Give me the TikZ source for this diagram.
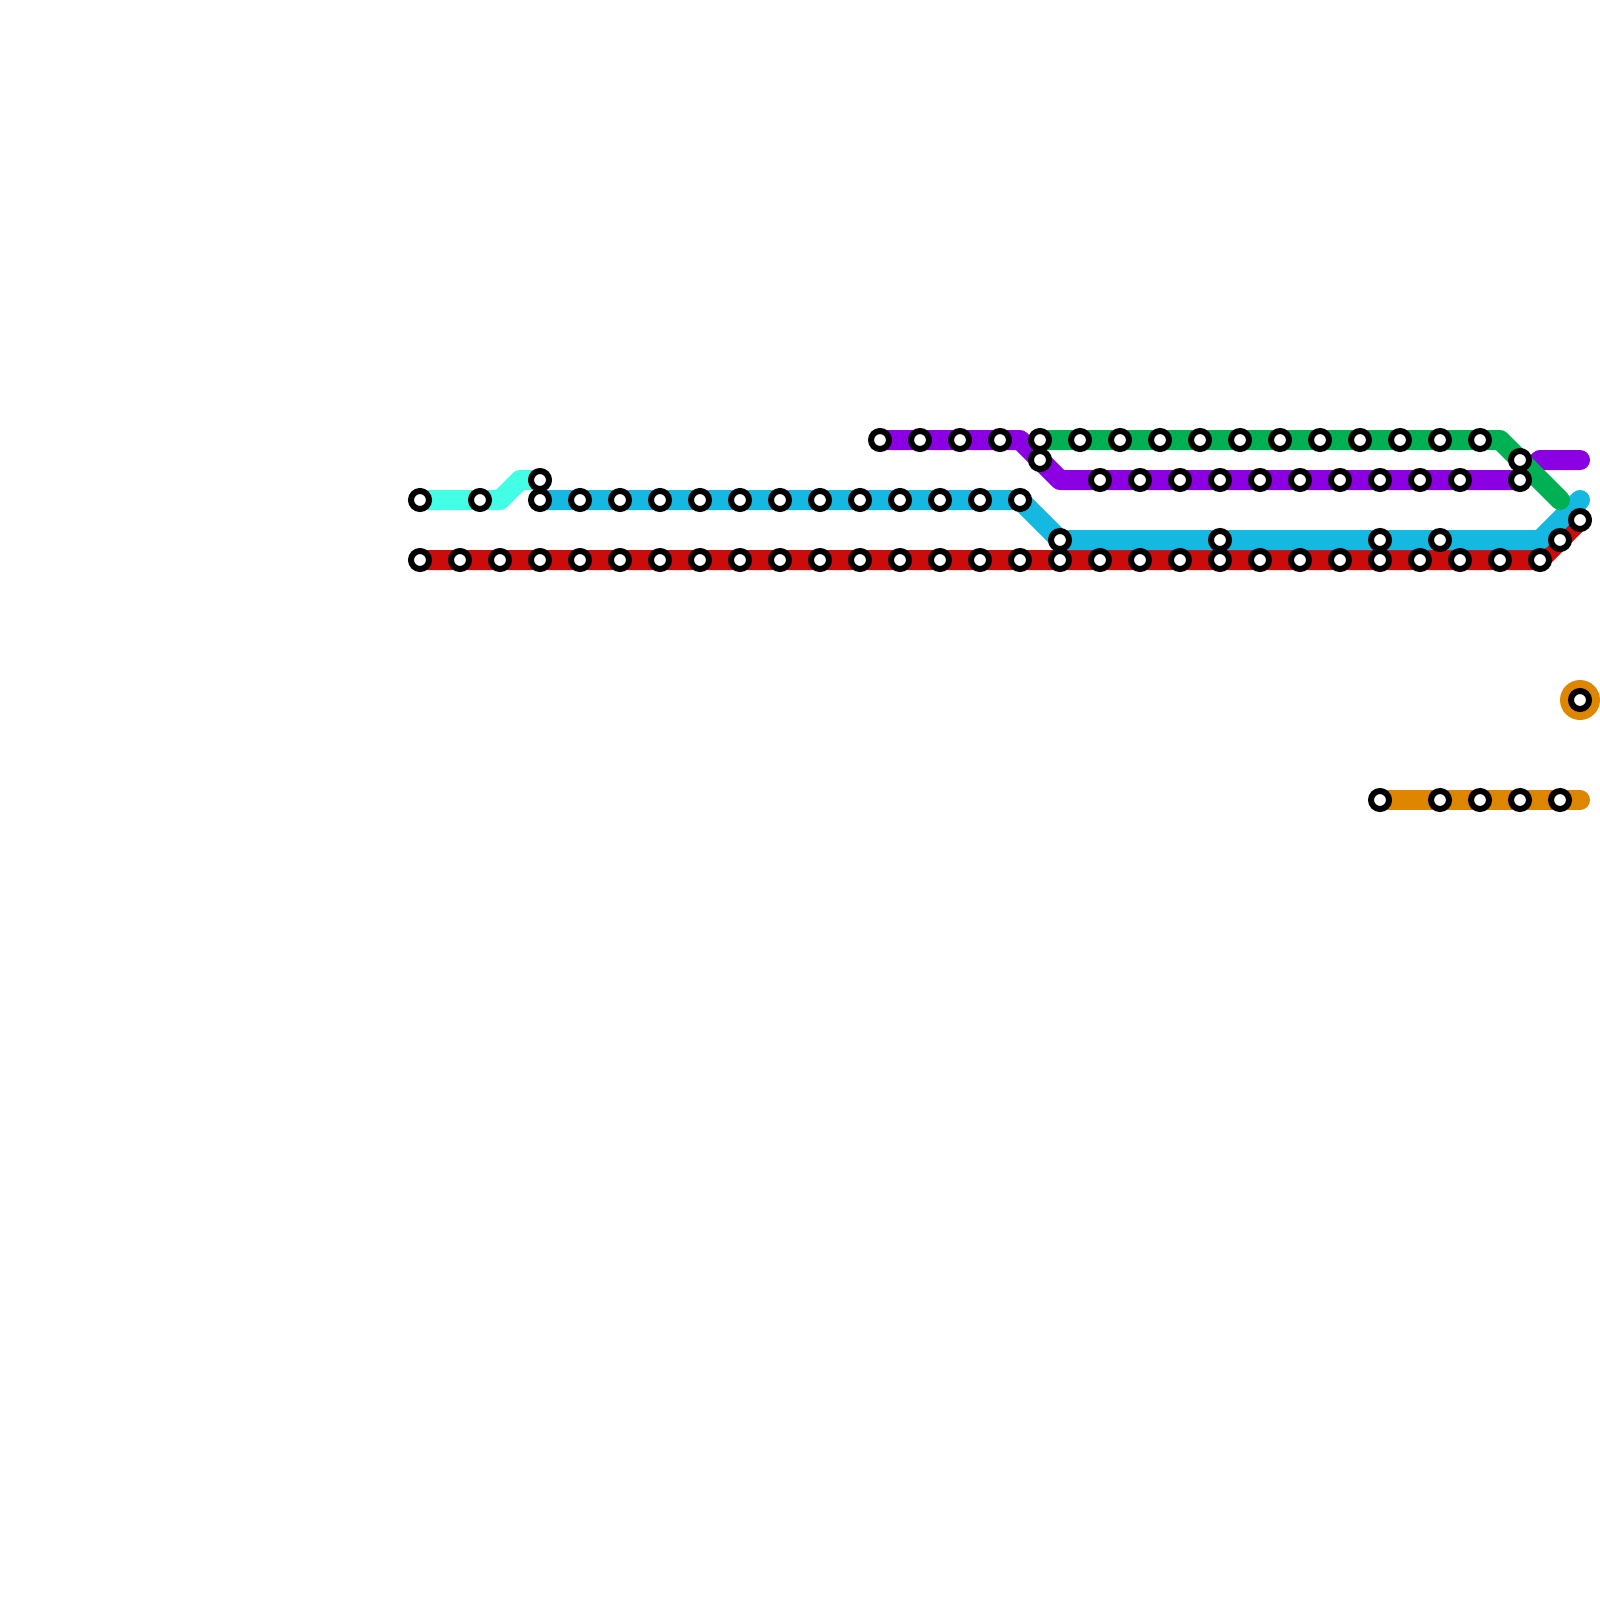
\documentclass[tikz,border=0pt]{standalone}
\pgfdeclarelayer{lines}
\pgfsetlayers{lines,main}
\definecolor{cAqua}{HTML}{43FFE6}
\definecolor{cBlue}{HTML}{15B8E1}
\definecolor{cRed}{HTML}{CC0B0B}
\definecolor{cPurple}{HTML}{8B00E3}
\definecolor{cGreen}{HTML}{00B153}
\definecolor{cOrange}{HTML}{DF8600}
\tikzset{
  station/.style={circle,draw=black,fill=white,line width=6pt,minimum size=18pt,inner sep=0pt,outer sep=0pt},
  route/.style={line width=20pt,line cap=round,line join=round},
}
\newcommand{\stationrow}[2]{\foreach \sx in {#2} {\node[station] (s\sx-#1) at (\sx,#1) {};}}
\begin{document}
\begin{tikzpicture}[x=1pt,y=-1pt]
\useasboundingbox (0,0) rectangle (1600,1600);
% stations
\stationrow{440}{880,920,...,1480}
\stationrow{460}{1040,1520}
\stationrow{480}{540,1100,1140,...,1460,1520}
\stationrow{500}{420,480,540,580,...,1020}
\stationrow{520}{1580}
\stationrow{540}{1060,1220,1380,1440,1560}
\stationrow{560}{420,460,...,1540}
\stationrow{700}{1580}
\stationrow{800}{1380,1440,1480,1520,1560}
% route bends and free ends
\coordinate (aq1) at (500,500);
\coordinate (aq2) at (520,480);
\coordinate (pu1) at (1020,440);
\coordinate (pu2) at (1060,480);
\coordinate (pu3) at (1540,460);
\coordinate (pu4) at (1580,460);
\coordinate (gr1) at (1500,440);
\coordinate (gr2) at (1560,500);
\coordinate (bl1) at (1540,540);
\coordinate (bl2) at (1580,500);
\coordinate (or1) at (1580,800);
\begin{pgfonlayer}{lines}
\fill[white] (0,0) rectangle (1600,1600);
\draw[route,cRed] (s420-560.center) -- (s1540-560.center) -- (s1580-520.center);
\draw[route,cAqua] (s420-500.center) -- (aq1) -- (aq2) -- (s540-480.center);
\draw[route,cBlue] (s540-500.center) -- (s1020-500.center) -- (s1060-540.center) -- (bl1) -- (bl2);
\draw[route,cPurple] (s880-440.center) -- (pu1) -- (pu2) -- (s1520-480.center) -- (pu3) -- (pu4);
\draw[route,cOrange] (s1380-800.center) -- (or1);
\fill[cOrange] (s1580-700.center) circle[radius=20pt];
\draw[route,cGreen] (s1040-440.center) -- (gr1) -- (gr2);
\end{pgfonlayer}
\end{tikzpicture}
\end{document}
